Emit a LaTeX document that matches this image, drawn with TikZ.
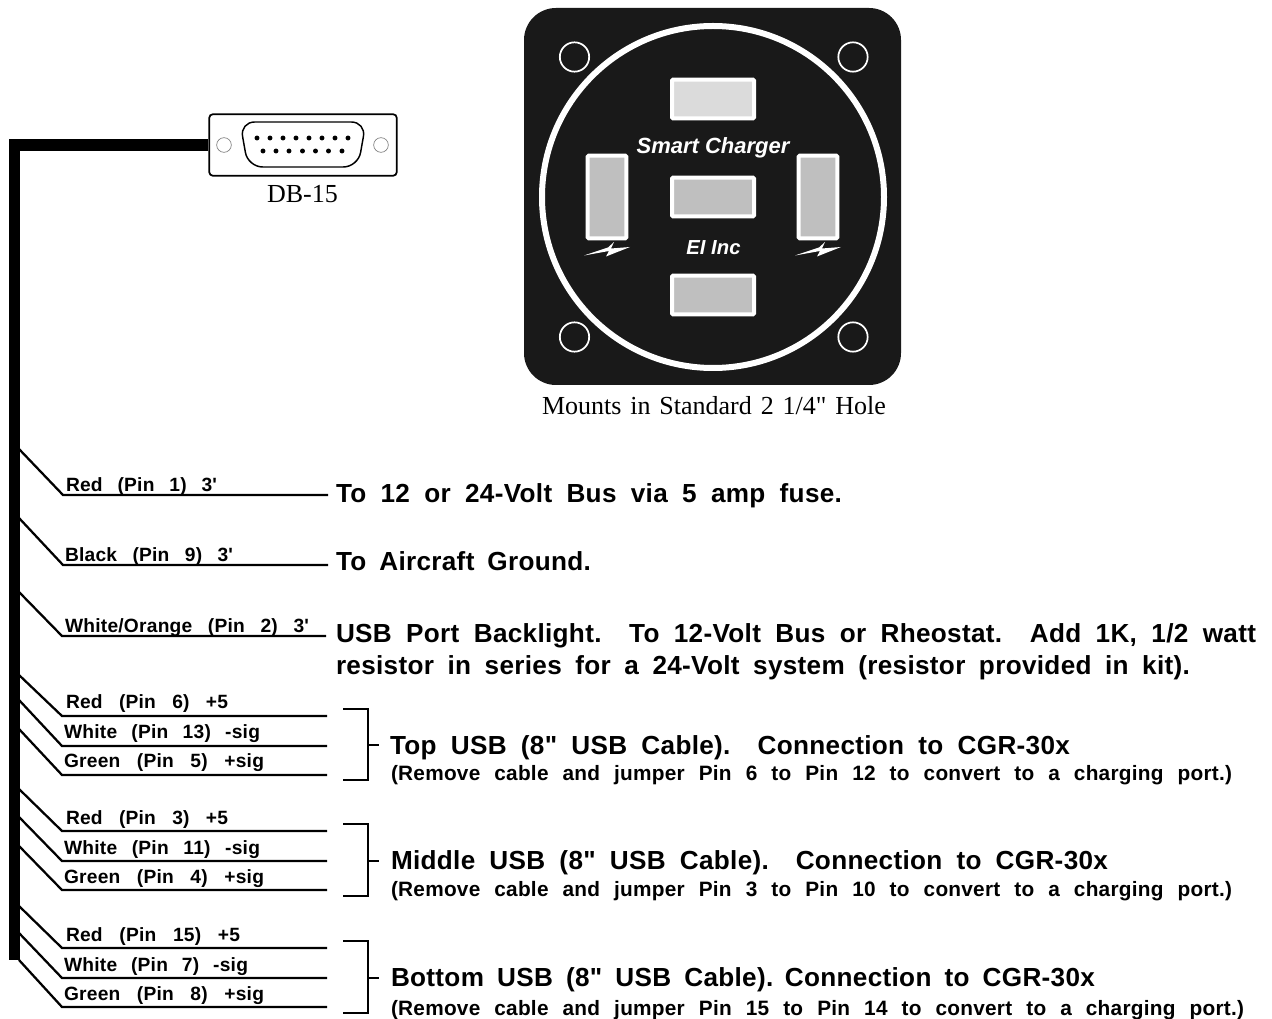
\documentclass[tikz,border=0pt]{standalone}
\usepackage{fontspec}
\newfontfamily\srf{Liberation Serif}
\newfontfamily\hbase[LetterSpace=1.2,WordSpace=1.2]{Liberation Sans}
\newfontfamily\hibase{Liberation Sans}
\newcommand{\hb}{\hbase\bfseries}
\newcommand{\hbi}{\hibase\bfseries\itshape}
\newcommand{\fitto}[2]{\makebox[\dimexpr #1pt*3/4\relax][s]{#2}}
\tikzset{
 wire/.style={line width=1.7pt,line join=miter},
 brk/.style={line width=1.5pt},
 trunk/.style={line width=8.4pt,line join=miter},
 txt/.style={anchor=base west,inner sep=0pt,outer sep=0pt,text=black},
 lab/.style={txt,font=\hb\fontsize{14.4}{15}\selectfont},
 big/.style={txt,font=\hb\fontsize{19.6}{22}\selectfont},
 small/.style={txt,font=\hb\fontsize{15.6}{17}\selectfont},
 port/.style={draw=white,line width=3pt,rounded corners=0.8pt,inner sep=0pt,minimum width=61.5pt,minimum height=29pt},
 vport/.style={port,minimum width=29pt,minimum height=62pt},
 hole/.style={circle,draw=white,line width=1.3pt,inner sep=0pt,minimum size=22pt},
 pin/.style={circle,fill=black,inner sep=0pt,minimum size=3.7pt},
 bolt/.style={fill=white,draw=none},
 paneltxt/.style={anchor=base,inner sep=0pt,text=white,font=\hbi\fontsize{16.5}{17}\selectfont},
 serif/.style={anchor=base,inner sep=0pt,font=\srf\fontsize{19.5}{22}\selectfont},
}
\begin{document}
\begin{tikzpicture}[x=0.75pt,y=-0.75pt]
\useasboundingbox (0,0) rectangle (1272,1019);
% panel
\node[fill=black!90,rounded corners=24pt,minimum size=282.75pt,inner sep=0pt] (panel) at (712.5,196.5) {};
\node[circle,draw=white,line width=4.5pt,minimum size=256.5pt,inner sep=0pt] (ring) at (713,197) {};
\node[hole] (h1) at (574.5,57) {};
\node[hole] (h2) at (853,57) {};
\node[hole] (h3) at (574.5,337) {};
\node[hole] (h4) at (853,337) {};
\node[port,fill=black!14] (ptop) at (713,99) {};
\node[port,fill=black!25] (pmid) at (713,197) {};
\node[port,fill=black!25] (pbot) at (713,295) {};
\node[vport,fill=black!25] (pleft) at (607,197) {};
\node[vport,fill=black!25] (pright) at (818,197) {};
\node[paneltxt] (sc) at (713,153.5) {Smart Charger};
\node[paneltxt,font=\hbi\fontsize{15.2}{17}\selectfont] (ei) at (713.5,254.5) {EI Inc};
\foreach \dx in {0,211}{
 \fill[bolt,shift={(\dx,0)}] (584,255.5) -- (608,247.5) -- (614,242) -- (611,248.5) -- (630,247) -- (606,256.5) -- (609,251) -- cycle;
}
\node[serif] (mounts) at (714,415) {\fitto{344}{Mounts in Standard 2 1/4" Hole}};
% DB-15
\node[draw=black,line width=1.3pt,rounded corners=2.5pt,minimum width=140.5pt,minimum height=46pt,inner sep=0pt,fill=white] (db) at (303,145) {};
\draw[line width=1.1pt,rounded corners=11pt] (240,122) -- (366,122) -- (358,167) -- (248,167) -- cycle;
\node[circle,draw=black!50,line width=.5pt,minimum size=11pt,inner sep=0pt] (dl) at (224,145) {};
\node[circle,draw=black!50,line width=.5pt,minimum size=11pt,inner sep=0pt] (dr) at (381,145) {};
\foreach \x in {257,270,283,296,309,322,335,348}{\node[pin] at (\x,138) {};}
\foreach \x in {263,276,289,302.5,315.5,328.5,342}{\node[pin] at (\x,151) {};}
\node[serif] (dbl) at (302.5,202.5) {DB-15};
% trunk
\coordinate (tend) at (14.5,960);
\draw[trunk] (db.west) -- (14.5,145) -- (tend);
% wires
\foreach \n/\sy/\ey/\ex/\fx in {a/449/495/63/328,b/518/565/63/328,c/592/636/62/326,d/675/716/62/327,e/700/746/62/327,f/729/775/62/327,g/789/831/62/327,h/817/861/62/327,i/846/890/62/327,j/906/948/62/327,k/933/978/62/327,l/960/1007/62/327}{
 \coordinate (s\n) at (19,\sy);
 \coordinate (m\n) at (\ex,\ey);
 \coordinate (q\n) at (\fx,\ey);
 \draw[wire] (s\n) -- (m\n) -- (q\n);
}
% wire labels
\node[lab] (la) at (66,491.5) {\fitto{151}{Red  (Pin  1)  3'}};
\node[lab] (lb) at (65,561.5) {\fitto{168}{Black  (Pin  9)  3'}};
\node[lab] (lc) at (65,632.5) {\fitto{244}{White/Orange  (Pin  2)  3'}};
\node[lab] (ld) at (66,709) {\fitto{162}{Red  (Pin  6)  +5}};
\node[lab] (le) at (64,739) {\fitto{196}{White  (Pin  13)  -sig}};
\node[lab] (lf) at (64,768) {\fitto{200}{Green  (Pin  5)  +sig}};
\node[lab] (lg) at (66,824) {\fitto{162}{Red  (Pin  3)  +5}};
\node[lab] (lh) at (64,854) {\fitto{196}{White  (Pin  11)  -sig}};
\node[lab] (li) at (64,883) {\fitto{200}{Green  (Pin  4)  +sig}};
\node[lab] (lj) at (66,941) {\fitto{174}{Red  (Pin  15)  +5}};
\node[lab] (lk) at (64,971) {\fitto{184}{White  (Pin  7)  -sig}};
\node[lab] (ll) at (64,1000) {\fitto{200}{Green  (Pin  8)  +sig}};
% brackets
\foreach \n/\a/\b/\c in {x/709/745/780,y/824/861/896,z/941/978/1013}{
 \coordinate (\n1) at (343,\a);
 \coordinate (\n2) at (343,\c);
 \coordinate (\n3) at (379,\b);
 \draw[brk] (\n1) -- (368,\a) -- (368,\c) -- (\n2);
 \draw[brk] (368,\b) -- (\n3);
}
% main text
\node[big] (ta) at (336,502.5) {\fitto{506}{To  12  or  24-Volt  Bus  via  5  amp  fuse.}};
\node[big] (tb) at (336,570.5) {\fitto{255}{To  Aircraft  Ground.}};
\node[big] (tc) at (336,643) {\fitto{920}{USB  Port  Backlight.   To  12-Volt  Bus  or  Rheostat.   Add  1K,  1/2  watt}};
\node[big] (td) at (336,675) {\fitto{854}{resistor  in  series  for  a  24-Volt  system  (resistor  provided  in  kit).}};
\node[big] (te) at (390,754) {\fitto{680}{Top  USB  (8"  USB  Cable).   Connection  to  CGR-30x}};
\node[small] (tf) at (391,781) {\fitto{841}{(Remove  cable  and  jumper  Pin  6  to  Pin  12  to  convert  to  a  charging  port.)}};
\node[big] (tg) at (391,869) {\fitto{717}{Middle  USB  (8"  USB  Cable).   Connection  to  CGR-30x}};
\node[small] (th) at (391,896) {\fitto{841}{(Remove  cable  and  jumper  Pin  3  to  Pin  10  to  convert  to  a  charging  port.)}};
\node[big] (ti) at (391,986) {\fitto{704}{Bottom\hspace{0pt plus 1fil} USB\hspace{0pt plus 1fil} (8"\hspace{0pt plus 1fil} USB\hspace{0pt plus 1fil} Cable). Connection\hspace{0pt plus 1fil} to\hspace{0pt plus 1fil} CGR-30x}};
\node[small] (tj) at (391,1015) {\fitto{853}{(Remove  cable  and  jumper  Pin  15  to  Pin  14  to  convert  to  a  charging  port.)}};
\end{tikzpicture}
\end{document}
